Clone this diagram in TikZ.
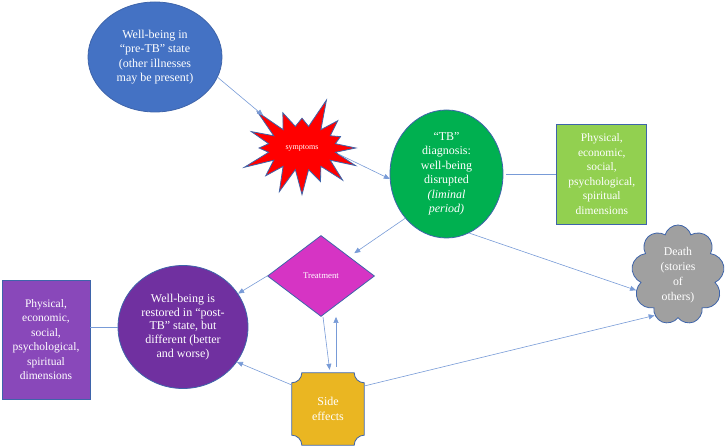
\documentclass[tikz,border=0pt]{standalone}
\usepackage{fontspec}
\setmainfont{Liberation Serif}
\usepackage{xcolor}
\usepackage{tikz}
\usetikzlibrary{shapes.geometric, shapes.symbols, arrows.meta, positioning,
                backgrounds, calc}
\definecolor{edgeblue}{RGB}{62, 100, 170}
\definecolor{linkblue}{RGB}{120, 155, 215}
\definecolor{preblue}{RGB}{68, 114, 196}
\definecolor{diaggreen}{RGB}{0, 176, 80}
\definecolor{lightgreen}{RGB}{146, 208, 80}
\definecolor{treatpink}{RGB}{214, 52, 196}
\definecolor{postpurple}{RGB}{112, 48, 160}
\definecolor{boxpurple}{RGB}{137, 72, 186}
\definecolor{sidegold}{RGB}{234, 182, 34}
\definecolor{deathgray}{RGB}{160, 160, 160}

\begin{document}
\begin{tikzpicture}[
    x=1pt, y=1pt,
    txt/.style={text=white, align=center, font=\fontsize{12}{14.5}\selectfont},
    blob/.style={txt, draw=edgeblue, line width=0.8pt, inner sep=0pt},
    dimbox/.style={blob, rectangle, minimum width=90pt, minimum height=100pt,
                   font=\fontsize{11.5}{14.5}\selectfont},
    arrow/.style={-{Triangle[length=6pt, width=5pt]}, line width=0.6pt, linkblue},
    link/.style={line width=0.6pt, linkblue}
]
    \useasboundingbox (0,0) rectangle (726,446);

    \node[blob, ellipse, fill=preblue, minimum width=134pt, minimum height=110pt]
        (pre) at (155,389) {Well-being in\\“pre-TB” state\\(other illnesses\\may be present)};
    \node[blob, starburst, fill=red, starburst points=16, starburst point height=30pt,
          random starburst=23, minimum width=128pt, minimum height=104pt,
          font=\fontsize{8}{9}\selectfont]
        (symp) at (302,298) {symptoms};
    \node[blob, ellipse, fill=diaggreen, minimum width=113pt, minimum height=128pt]
        (diag) at (446.5,272) {“TB”\\diagnosis:\\well-being\\disrupted\\\textit{(liminal}\\\textit{period)}};
    \node[dimbox, fill=lightgreen, right=53pt of diag]
        (dimA) {Physical,\\economic,\\social,\\psychological,\\spiritual\\dimensions};
    \node[blob, diamond, fill=treatpink, minimum width=107pt, minimum height=81pt,
          font=\fontsize{8.8}{10}\selectfont]
        (treat) at (321,170) {Treatment};
    \node[blob, ellipse, fill=postpurple, minimum width=130pt, minimum height=123pt,
          font=\fontsize{12}{13.8}\selectfont]
        (post) at (183,119) {Well-being is\\restored in “post-\\TB” state, but\\different (better\\and worse)};
    \node[dimbox, fill=boxpurple, minimum width=88pt, minimum height=119pt]
        (dimB) at (46,106.5) {Physical,\\economic,\\social,\\psychological,\\spiritual\\dimensions};
    \node[txt, minimum width=72pt, minimum height=72pt]
        (side) at (328,37) {Side\\effects};
    \node[blob, cloud, fill=deathgray, cloud puffs=9, aspect=0.93,
          minimum width=93pt, minimum height=100pt, font=\fontsize{11.8}{15}\selectfont]
        (death) at (678,171) {Death\\(stories\\of\\others)};

    \begin{scope}[on background layer]
        \filldraw[fill=sidegold, draw=edgeblue, line width=0.8pt]
            ($(side.north west)+(10,0)$) -- ($(side.north east)+(-10,0)$)
            arc[start angle=180, end angle=270, radius=10pt]
            -- ($(side.south east)+(0,10)$) arc[start angle=90, end angle=180, radius=10pt]
            -- ($(side.south west)+(10,0)$) arc[start angle=0, end angle=90, radius=10pt]
            -- ($(side.north west)+(0,-10)$) arc[start angle=270, end angle=360, radius=10pt]
            -- cycle;
    \end{scope}

    \draw[arrow] (pre.-18) -- (symp);
    \draw[arrow] (symp.-10) -- (diag.185);
    \draw[arrow, shorten >=6pt] (diag.-133) -- (treat);
    \draw[arrow] (treat.west) -- (post);
    \draw[arrow] ([yshift=24pt]side.west) -- (post.-33);
    \draw[arrow, shorten >=3pt] ([xshift=2pt]treat.south) -- ([xshift=2pt]side.north);
    \draw[arrow, shorten <=6pt] ([xshift=8pt]side.north) -- ([xshift=8pt]side.north |- treat.south);
    \draw[arrow] ([yshift=23pt]side.east) -- (death.-120);
    \draw[arrow] (diag.-69) -- (death.200);
    \draw[link, shorten <=3pt] (diag.east) -- (dimA);
    \draw[link] (post.west) -- (post.west -| dimB.east);
\end{tikzpicture}
\end{document}
